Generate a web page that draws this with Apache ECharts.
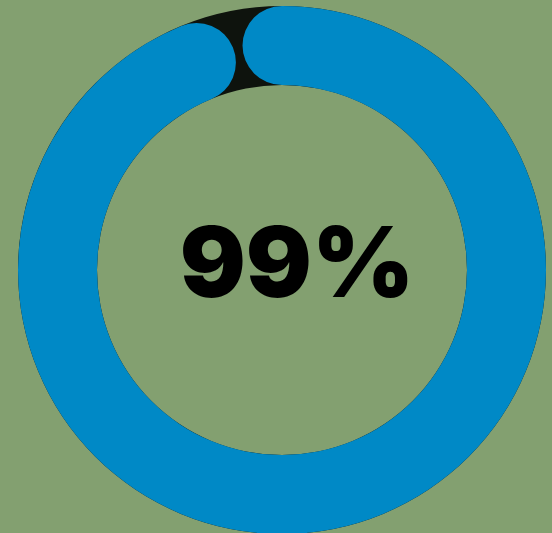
<!DOCTYPE html>
<html>
<head>
<meta charset="utf-8">
<script src="https://cdn.jsdelivr.net/npm/echarts@6/dist/echarts.min.js"></script>
<style>
  html, body { margin: 0; padding: 0; background: #83a070; }
  #main { width: 552px; height: 533px; }
</style>
</head>
<body>
<div id="main"></div>
<script>
// value shown in the ring
const values = [99];
const scaleMax = [100];
const labels = ["99%"];

const myChart = echarts.init(document.getElementById("main"));

const option = {
  backgroundColor: "#83a070",
  animation: false,
  series: [
    // dark track behind the progress
    {
      type: "gauge",
      center: [282, 270],
      radius: 264,
      startAngle: 90,
      endAngle: -270,
      min: 0,
      max: scaleMax[0],
      pointer: { show: false },
      progress: { show: false },
      axisLine: { lineStyle: { width: 79, color: [[1, "#0e130d"]] } },
      axisTick: { show: false },
      splitLine: { show: false },
      axisLabel: { show: false },
      title: { show: false },
      detail: { show: false },
      data: [{ value: 0 }],
    },
    {
      type: "gauge",
      center: [282, 270],
      radius: 264,
      startAngle: 90,
      endAngle: -251,
      min: 0,
      max: scaleMax[0],
      pointer: { show: false },
      progress: {
        show: true,
        roundCap: true,
        width: 79,
        itemStyle: { color: "#0089c6" },
      },
      axisLine: { show: false, lineStyle: { width: 79 } },
      axisTick: { show: false },
      splitLine: { show: false },
      axisLabel: { show: false },
      title: { show: false },
      detail: {
        valueAnimation: false,
        offsetCenter: [15, -2],
        fontFamily: "Inter",
        fontWeight: 900,
        fontSize: 98,
        color: "#000",
        formatter: function () {
          return labels[0];
        },
      },
      data: [{ value: values[0] }],
    },
  ],
};

myChart.setOption(option);
</script>
</body>
</html>
